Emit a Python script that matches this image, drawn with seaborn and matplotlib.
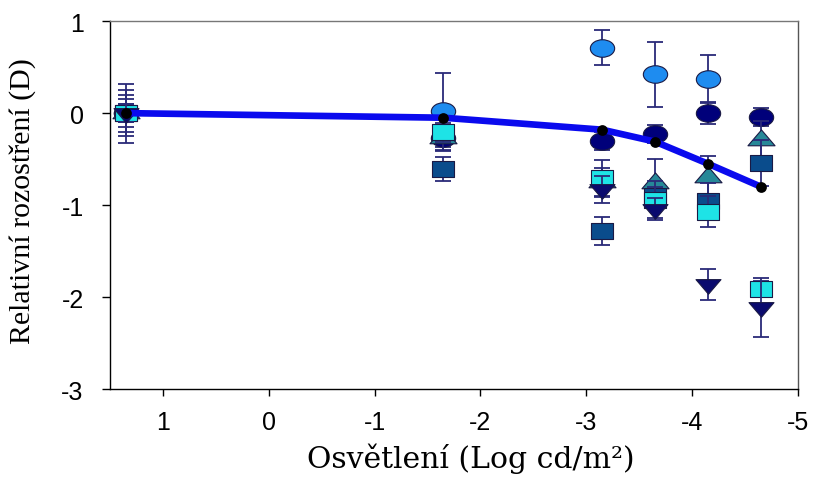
import matplotlib
matplotlib.use("Agg")
import matplotlib.pyplot as plt
import seaborn as sns
import numpy as np
import pandas as pd
from matplotlib.path import Path

# illumination levels (log cd/m2)
x_log = [1.35, -1.65, -3.15, -3.65, -4.15, -4.65]

# individual subjects, relative defocus (D) and error bars
light_circle = [0.0, 0.02, 0.71, 0.42, 0.37, np.nan]
light_circle_err = [0.32, 0.42, 0.19, 0.35, 0.26, np.nan]
navy_circle = [0.0, -0.27, -0.30, -0.23, 0.0, -0.04]
navy_circle_err = [0.2, 0.1, 0.1, 0.1, 0.12, 0.1]
teal_triangle = [0.0, -0.27, -0.75, -0.76, -0.69, -0.29]
teal_triangle_err = [0.15, 0.14, 0.15, 0.26, 0.22, 0.2]
blue_square = [0.0, -0.61, -1.28, -0.90, -0.96, -0.54]
blue_square_err = [0.1, 0.13, 0.15, 0.1, 0.2, 0.25]
cyan_square = [0.0, -0.21, -0.71, -0.94, -1.07, -1.91]
cyan_square_err = [0.25, 0.1, 0.2, 0.2, 0.17, 0.08]
navy_triangle = [0.0, np.nan, -0.83, -1.04, -1.86, -2.11]
navy_triangle_err = [0.1, np.nan, 0.15, 0.12, 0.17, 0.32]

# group mean
mean_values = [0.0, -0.05, -0.18, -0.31, -0.55, -0.80]

x_ticks = [1, 0, -1, -2, -3, -4, -5]
y_ticks = [1, 0, -1, -2, -3]

# squashed marker shapes (the original figure is stretched horizontally)
ellipse = Path(Path.unit_circle().vertices * [1, 0.72], Path.unit_circle().codes)
rect = Path([(-1, -0.76), (1, -0.76), (1, 0.76), (-1, 0.76), (-1, -0.76)], closed=True)
tri_up = Path([(0, 0.78), (-1, -0.39), (1, -0.39), (0, 0.78)], closed=True)
tri_down = Path([(0, -0.78), (-1, 0.39), (1, 0.39), (0, -0.78)], closed=True)

series = [
    (light_circle, light_circle_err, ellipse, '#1E8CF0', 17.5),
    (navy_circle, navy_circle_err, ellipse, '#00007A', 17.5),
    (teal_triangle, teal_triangle_err, tri_up, '#268898', 19.5),
    (blue_square, blue_square_err, rect, '#0A4C8C', 16),
    (cyan_square, cyan_square_err, rect, '#1EE3E6', 16),
    (navy_triangle, navy_triangle_err, tri_down, '#0A0A6E', 18),
]

sns.set_style("ticks")
plt.rcParams['font.family'] = ['Liberation Sans', 'DejaVu Sans']
plt.rcParams['text.color'] = 'black'
plt.rcParams['xtick.color'] = 'black'
plt.rcParams['ytick.color'] = 'black'
plt.rcParams['axes.labelcolor'] = 'black'

fig = plt.figure(figsize=(8.15, 4.81), dpi=100)
ax = fig.add_axes([0.135, 0.189, 0.844, 0.765])

for i, (vals, errs, marker, color, ms) in enumerate(series):
    df = pd.DataFrame({'x': x_log, 'y': vals, 'err': errs}).dropna()
    ax.errorbar(df['x'], df['y'], yerr=df['err'], fmt='none', ecolor='#2A2A78',
                elinewidth=1.3, capsize=6, capthick=1.3, zorder=2 + i)
    sns.scatterplot(data=df, x='x', y='y', marker=marker, s=ms ** 2, color=color,
                    edgecolor='#1A1A45', linewidth=0.8, ax=ax, zorder=2.5 + i)

mean_df = pd.DataFrame({'x': x_log, 'y': mean_values})
sns.lineplot(data=mean_df, x='x', y='y', color='#0A0AEE', linewidth=4.8,
             ax=ax, zorder=20, sort=False)
sns.scatterplot(data=mean_df, x='x', y='y', color='black', s=60, linewidth=0,
                ax=ax, zorder=21)

ax.set_xlim(1.5, -5)
ax.set_ylim(-3, 1)
ax.set_xticks(x_ticks)
ax.set_yticks(y_ticks)
ax.set_xticklabels([str(t) for t in x_ticks], fontsize=18)
ax.set_yticklabels([str(t) for t in y_ticks], fontsize=18)
ax.tick_params(axis='x', direction='out', length=5, width=1, pad=10)
ax.tick_params(axis='y', direction='out', length=6, width=1, pad=13)

for side in ['top', 'right', 'left', 'bottom']:
    ax.spines[side].set_visible(True)
    ax.spines[side].set_linewidth(1)
    ax.spines[side].set_color('black')
ax.spines['top'].set_color('#777777')
ax.spines['right'].set_color('#555555')

ax.set_xlabel('Osvětlení (Log cd/m²)', fontsize=21.5, family=['DejaVu Serif'])
ax.set_ylabel('Relativní rozostření (D)', fontsize=21.5, family=['Liberation Serif'])
ax.xaxis.set_label_coords(0.525, -0.145)
ax.yaxis.set_label_coords(-0.108, 0.514)

fig.savefig('out.png', dpi=100, facecolor='white')
